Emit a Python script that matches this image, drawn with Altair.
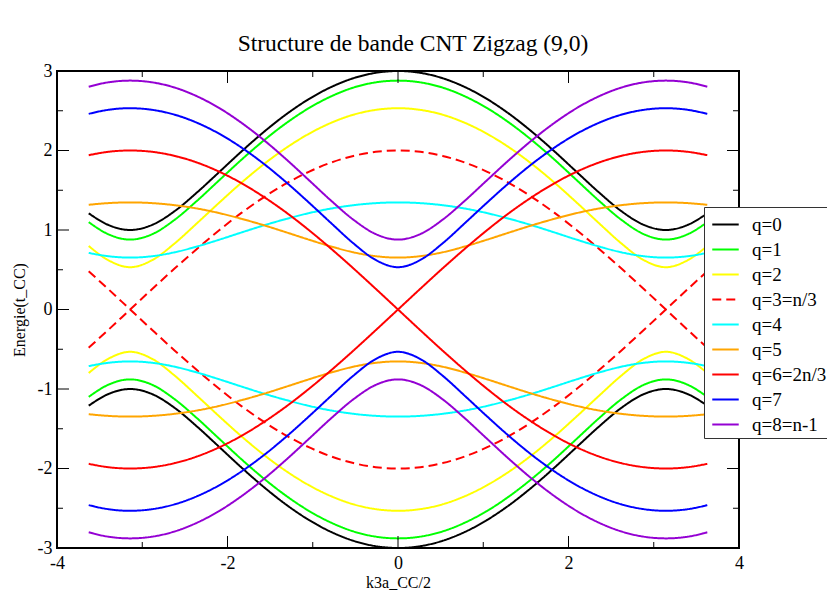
import altair as alt
import pandas as pd

# k*sqrt(3)*a_CC/2 sample positions
x_vals = [-3.628, -3.403, -3.142, -2.880, -2.618, -2.356, -2.094, -1.833, -1.571, -1.309,
          -1.047, -0.785, -0.524, -0.262, 0.000, 0.262, 0.524, 0.785, 1.047, 1.309,
          1.571, 1.833, 2.094, 2.356, 2.618, 2.880, 3.142, 3.403, 3.628]

q0_up = [1.210, 1.066, 1.000, 1.066, 1.239, 1.474, 1.732, 1.991, 2.236, 2.457, 2.646, 2.798, 2.909, 2.977, 3.000,
         2.977, 2.909, 2.798, 2.646, 2.457, 2.236, 1.991, 1.732, 1.474, 1.239, 1.066, 1.000, 1.066, 1.210]
q0_dn = [-1.210, -1.066, -1.000, -1.066, -1.239, -1.474, -1.732, -1.991, -2.236, -2.457, -2.646, -2.798, -2.909, -2.977, -3.000,
         -2.977, -2.909, -2.798, -2.646, -2.457, -2.236, -1.991, -1.732, -1.474, -1.239, -1.066, -1.000, -1.066, -1.210]

q1_up = [1.099, 0.949, 0.879, 0.949, 1.130, 1.369, 1.629, 1.887, 2.129, 2.346, 2.532, 2.681, 2.791, 2.857, 2.879,
         2.857, 2.791, 2.681, 2.532, 2.346, 2.129, 1.887, 1.629, 1.369, 1.130, 0.949, 0.879, 0.949, 1.099]
q1_dn = [-1.099, -0.949, -0.879, -0.949, -1.130, -1.369, -1.629, -1.887, -2.129, -2.346, -2.532, -2.681, -2.791, -2.857, -2.879,
         -2.857, -2.791, -2.681, -2.532, -2.346, -2.129, -1.887, -1.629, -1.369, -1.130, -0.949, -0.879, -0.949, -1.099]

q2_up = [0.799, 0.623, 0.532, 0.623, 0.833, 1.087, 1.347, 1.598, 1.830, 2.035, 2.209, 2.348, 2.450, 2.511, 2.532,
         2.511, 2.450, 2.348, 2.209, 2.035, 1.830, 1.598, 1.347, 1.087, 0.833, 0.623, 0.532, 0.623, 0.799]
q2_dn = [-0.799, -0.623, -0.532, -0.623, -0.833, -1.087, -1.347, -1.598, -1.830, -2.035, -2.209, -2.348, -2.450, -2.511, -2.532,
         -2.511, -2.450, -2.348, -2.209, -2.035, -1.830, -1.598, -1.347, -1.087, -0.833, -0.623, -0.532, -0.623, -0.799]

q3_a = [-0.481, -0.261, 0.000, 0.261, 0.518, 0.765, 1.000, 1.218, 1.414, 1.587, 1.732, 1.848, 1.932, 1.983, 2.000,
        1.983, 1.932, 1.848, 1.732, 1.587, 1.414, 1.218, 1.000, 0.765, 0.518, 0.261, 0.000, -0.261, -0.481]
q3_b = [0.481, 0.261, 0.000, -0.261, -0.518, -0.765, -1.000, -1.218, -1.414, -1.587, -1.732, -1.848, -1.932, -1.983, -2.000,
        -1.983, -1.932, -1.848, -1.732, -1.587, -1.414, -1.218, -1.000, -0.765, -0.518, -0.261, 0.000, 0.261, 0.481]

q4_up = [0.712, 0.671, 0.653, 0.671, 0.720, 0.793, 0.879, 0.970, 1.059, 1.140, 1.212, 1.270, 1.312, 1.338, 1.347,
         1.338, 1.312, 1.270, 1.212, 1.140, 1.059, 0.970, 0.879, 0.793, 0.720, 0.671, 0.653, 0.671, 0.712]
q4_dn = [-0.712, -0.671, -0.653, -0.671, -0.720, -0.793, -0.879, -0.970, -1.059, -1.140, -1.212, -1.270, -1.312, -1.338, -1.347,
         -1.338, -1.312, -1.270, -1.212, -1.140, -1.059, -0.970, -0.879, -0.793, -0.720, -0.671, -0.653, -0.671, -0.712]

q5_up = [1.317, 1.338, 1.347, 1.338, 1.312, 1.270, 1.212, 1.140, 1.059, 0.970, 0.879, 0.793, 0.720, 0.671, 0.653,
         0.671, 0.720, 0.793, 0.879, 0.970, 1.059, 1.140, 1.212, 1.270, 1.312, 1.338, 1.347, 1.338, 1.317]
q5_dn = [-1.317, -1.338, -1.347, -1.338, -1.312, -1.270, -1.212, -1.140, -1.059, -0.970, -0.879, -0.793, -0.720, -0.671, -0.653,
         -0.671, -0.720, -0.793, -0.879, -0.970, -1.059, -1.140, -1.212, -1.270, -1.312, -1.338, -1.347, -1.338, -1.317]

q6_a = [-1.941, -1.983, -2.000, -1.983, -1.932, -1.848, -1.732, -1.587, -1.414, -1.218, -1.000, -0.765, -0.518, -0.261, 0.000,
        0.261, 0.518, 0.765, 1.000, 1.218, 1.414, 1.587, 1.732, 1.848, 1.932, 1.983, 2.000, 1.983, 1.941]
q6_b = [1.941, 1.983, 2.000, 1.983, 1.932, 1.848, 1.732, 1.587, 1.414, 1.218, 1.000, 0.765, 0.518, 0.261, 0.000,
        -0.261, -0.518, -0.765, -1.000, -1.218, -1.414, -1.587, -1.732, -1.848, -1.932, -1.983, -2.000, -1.983, -1.941]

q7_up = [2.461, 2.511, 2.532, 2.511, 2.450, 2.348, 2.209, 2.035, 1.830, 1.598, 1.347, 1.087, 0.833, 0.623, 0.532,
         0.623, 0.833, 1.087, 1.347, 1.598, 1.830, 2.035, 2.209, 2.348, 2.450, 2.511, 2.532, 2.511, 2.461]
q7_dn = [-2.461, -2.511, -2.532, -2.511, -2.450, -2.348, -2.209, -2.035, -1.830, -1.598, -1.347, -1.087, -0.833, -0.623, -0.532,
         -0.623, -0.833, -1.087, -1.347, -1.598, -1.830, -2.035, -2.209, -2.348, -2.450, -2.511, -2.532, -2.511, -2.461]

q8_up = [2.803, 2.857, 2.879, 2.857, 2.791, 2.681, 2.532, 2.346, 2.129, 1.887, 1.629, 1.369, 1.130, 0.949, 0.879,
         0.949, 1.130, 1.369, 1.629, 1.887, 2.129, 2.346, 2.532, 2.681, 2.791, 2.857, 2.879, 2.857, 2.803]
q8_dn = [-2.803, -2.857, -2.879, -2.857, -2.791, -2.681, -2.532, -2.346, -2.129, -1.887, -1.629, -1.369, -1.130, -0.949, -0.879,
         -0.949, -1.130, -1.369, -1.629, -1.887, -2.129, -2.346, -2.532, -2.681, -2.791, -2.857, -2.879, -2.857, -2.803]

labels = ["q=0", "q=1", "q=2", "q=3=n/3", "q=4", "q=5", "q=6=2n/3", "q=7", "q=8=n-1"]
colors = ["#000000", "#00ff00", "#ffff00", "#ff0000", "#00ffff", "#ffa500", "#ff0000", "#0000ff", "#9400d3"]
dashes = [[1, 0], [1, 0], [1, 0], [9, 5], [1, 0], [1, 0], [1, 0], [1, 0], [1, 0]]
branches = [(q0_up, q0_dn), (q1_up, q1_dn), (q2_up, q2_dn), (q3_a, q3_b), (q4_up, q4_dn),
            (q5_up, q5_dn), (q6_a, q6_b), (q7_up, q7_dn), (q8_up, q8_dn)]

x_major = [-4, -2, 0, 2, 4]
x_minor = [-3, -1, 1, 3]
y_major = [-3, -2, -1, 0, 1, 2, 3]
y_minor = [-2.5, -1.5, -0.5, 0.5, 1.5, 2.5]

rows = []
for lab, (a, b) in zip(labels, branches):
    for name, arr in (("a", a), ("b", b)):
        for xv, yv in zip(x_vals, arr):
            rows.append({"x": xv, "E": yv, "series": lab, "branch": lab + name})
df = pd.DataFrame(rows)

W, H = 682, 477
FONT = "Liberation Serif"

xscale = alt.Scale(domain=[-4, 4], nice=False, zero=False)
yscale = alt.Scale(domain=[-3, 3], nice=False, zero=False)

xaxis = alt.Axis(values=x_major, title="k3a_CC/2", labelExpr="'' + datum.value",
                 labelPadding=6, titlePadding=2, labelFlush=False)
yaxis = alt.Axis(values=y_major, title="Energie(t_CC)", labelExpr="'' + datum.value",
                 labelPadding=5, titlePadding=10, labelFlush=False)

leg = alt.Legend(title=None, orient="none", legendX=647, legendY=136,
                 symbolType="stroke", symbolStrokeWidth=2, symbolSize=700, symbolOffset=4,
                 labelFont=FONT, labelFontSize=19, labelColor="black", labelOffset=12,
                 fillColor="white", strokeColor="#333333", padding=3, rowPadding=0)

lines = alt.Chart(df).mark_line(strokeWidth=2, interpolate="monotone").encode(
    x=alt.X("x:Q", scale=xscale, axis=xaxis),
    y=alt.Y("E:Q", scale=yscale, axis=yaxis),
    color=alt.Color("series:N", scale=alt.Scale(domain=labels, range=colors), legend=leg),
    strokeDash=alt.StrokeDash("series:N", scale=alt.Scale(domain=labels, range=dashes), legend=leg),
    detail="branch:N",
)


def xticks(vals, length):
    d = pd.DataFrame({"x": vals})
    bot = alt.Chart(d).mark_rule(color="black", strokeWidth=1).encode(
        x=alt.X("x:Q", scale=xscale, axis=xaxis), y=alt.value(H), y2=alt.value(H - length))
    top = alt.Chart(d).mark_rule(color="black", strokeWidth=1).encode(
        x=alt.X("x:Q", scale=xscale, axis=xaxis), y=alt.value(0), y2=alt.value(length))
    return [bot, top]


def yticks(vals, length):
    d = pd.DataFrame({"E": vals})
    left = alt.Chart(d).mark_rule(color="black", strokeWidth=1).encode(
        y=alt.Y("E:Q", scale=yscale, axis=yaxis), x=alt.value(0), x2=alt.value(length))
    right = alt.Chart(d).mark_rule(color="black", strokeWidth=1).encode(
        y=alt.Y("E:Q", scale=yscale, axis=yaxis), x=alt.value(W), x2=alt.value(W - length))
    return [left, right]


layers = [lines] + xticks(x_major, 12) + xticks(x_minor, 6) + yticks(y_major, 12) + yticks(y_minor, 6)

chart = alt.layer(*layers).properties(
    width=W, height=H,
    title=alt.TitleParams("Structure de bande CNT Zigzag (9,0)", font=FONT, fontSize=23.5,
                          fontWeight="normal", color="black", anchor="middle", dx=15, offset=7),
    autosize=alt.AutoSizeParams(type="none"),
    padding={"left": 57, "top": 71, "right": 88, "bottom": 48},
).configure(
    background="white", font=FONT
).configure_view(
    stroke="black", strokeWidth=2
).configure_axis(
    ticks=False, domain=False, grid=False,
    labelFont=FONT, labelFontSize=18, labelColor="black",
    titleFont=FONT, titleFontSize=16, titleFontWeight="normal", titleColor="black",
).configure_legend(
    labelFont=FONT, labelFontSize=19, labelColor="black"
)

chart.save("out.html", embed_options={"renderer": "svg", "actions": False})
